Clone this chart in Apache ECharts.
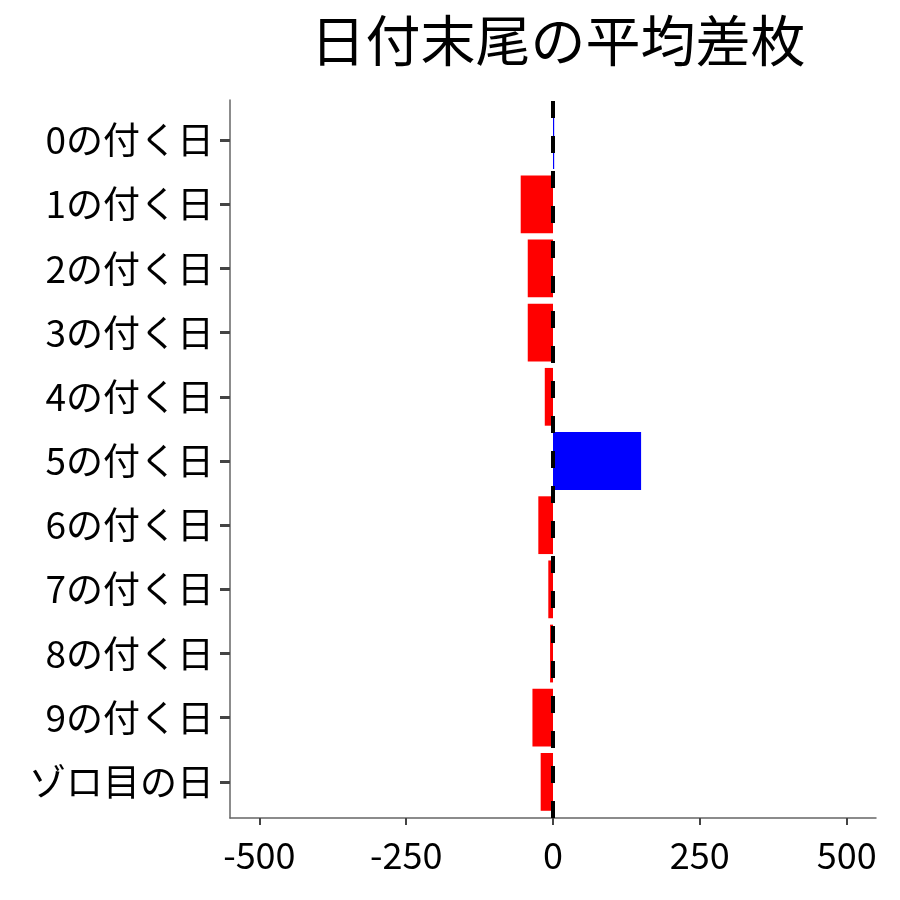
<!DOCTYPE html>
<html>
<head>
<meta charset="utf-8">
<script src="https://cdn.jsdelivr.net/npm/echarts@6/dist/echarts.min.js"></script>
<style>
  html, body { margin: 0; padding: 0; background: #fff; }
  #main { width: 900px; height: 900px; }
</style>
</head>
<body>
<div id="main"></div>
<script>
// 日付末尾ごとの平均差枚
var categories = ['0の付く日', '1の付く日', '2の付く日', '3の付く日', '4の付く日',
  '5の付く日', '6の付く日', '7の付く日', '8の付く日', '9の付く日', 'ゾロ目の日']
var values = [2, -55, -43, -43, -14, 150, -25, -8, -5, -35, -21]
var xTicks = [-500, -250, 0, 250, 500]

var FONT = '"Noto Sans CJK JP", "Noto Sans", sans-serif'
var myChart = echarts.init(document.getElementById('main'))

myChart.setOption({
  animation: false,
  title: {
    text: '日付末尾の平均差枚',
    left: 553,
    top: 8,
    textAlign: 'center',
    textStyle: { fontFamily: FONT, fontSize: 55, fontWeight: 'normal', color: '#000' }
  },
  grid: [
    // 軸線用
    { left: 230, right: 24, top: 100, bottom: 82 },
    // 棒用（ggplotの離散軸の余白に合わせる）
    { left: 230, right: 24, top: 108, bottom: 86 }
  ],
  xAxis: [
    {
      gridIndex: 0,
      type: 'value',
      min: -550,
      max: 550,
      splitLine: { show: false },
      axisLine: { show: true, onZero: false, lineStyle: { color: '#666', width: 1.5 } },
      axisTick: { show: true, length: 7, customValues: xTicks, lineStyle: { color: '#444', width: 2 } },
      axisLabel: {
        customValues: xTicks,
        margin: 19,
        fontFamily: FONT,
        fontSize: 36,
        color: '#000'
      }
    },
    {
      gridIndex: 1,
      type: 'value',
      min: -550,
      max: 550,
      show: false
    }
  ],
  yAxis: [
    {
      gridIndex: 0,
      type: 'value',
      min: 0,
      max: 1,
      splitLine: { show: false },
      axisLine: { show: true, onZero: false, lineStyle: { color: '#666', width: 1.5 } },
      axisTick: { show: false },
      axisLabel: { show: false }
    },
    {
      gridIndex: 1,
      type: 'category',
      data: categories,
      inverse: true,
      axisLine: { show: false, onZero: false },
      axisTick: { show: true, alignWithLabel: true, length: 10, lineStyle: { color: '#444', width: 3 } },
      axisLabel: { margin: 16, fontFamily: FONT, fontSize: 37, color: '#000' }
    }
  ],
  series: [
    {
      type: 'bar',
      xAxisIndex: 1,
      yAxisIndex: 1,
      barWidth: '90%',
      data: values.map(function (v) {
        return { value: v, itemStyle: { color: v >= 0 ? '#0000ff' : '#ff0000' } }
      })
    },
    {
      type: 'line',
      xAxisIndex: 0,
      yAxisIndex: 0,
      data: [],
      markLine: {
        silent: true,
        symbol: 'none',
        label: { show: false },
        lineStyle: { color: '#000', width: 4, type: [17, 18] },
        data: [{ xAxis: 0 }]
      }
    }
  ]
})
</script>
</body>
</html>
